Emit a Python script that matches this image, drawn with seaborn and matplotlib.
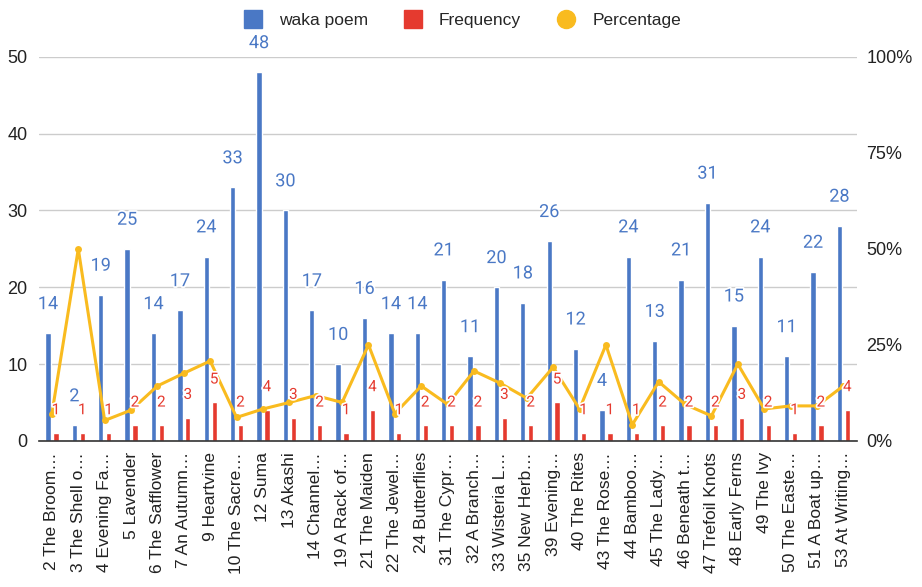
import seaborn as sns
import matplotlib.pyplot as plt
import matplotlib.patheffects as pe
from matplotlib.lines import Line2D
import pandas as pd

chapters = ["2 The Broom…", "3 The Shell o…", "4 Evening Fa…", "5 Lavender",
            "6 The Safflower", "7 An Autumn…", "9 Heartvine", "10 The Sacre…",
            "12 Suma", "13 Akashi", "14 Channel…", "19 A Rack of…",
            "21 The Maiden", "22 The Jewel…", "24 Butterflies", "31 The Cypr…",
            "32 A Branch…", "33 Wisteria L…", "35 New Herb…", "39 Evening…",
            "40 The Rites", "43 The Rose…", "44 Bamboo…", "45 The Lady…",
            "46 Beneath t…", "47 Trefoil Knots", "48 Early Ferns", "49 The Ivy",
            "50 The Easte…", "51 A Boat up…", "53 At Writing…"]
waka = [14, 2, 19, 25, 14, 17, 24, 33, 48, 30, 17, 10, 16, 14, 14, 21,
        11, 20, 18, 26, 12, 4, 24, 13, 21, 31, 15, 24, 11, 22, 28]
freq = [1, 1, 1, 2, 2, 3, 5, 2, 4, 3, 2, 1, 4, 1, 2, 2,
        2, 3, 2, 5, 1, 1, 1, 2, 2, 2, 3, 2, 1, 2, 4]
pct = [0.071, 0.50, 0.053, 0.08, 0.143, 0.176, 0.208, 0.061, 0.083, 0.10, 0.118,
       0.10, 0.25, 0.071, 0.143, 0.095, 0.182, 0.15, 0.111, 0.192, 0.083, 0.25,
       0.042, 0.154, 0.095, 0.065, 0.20, 0.083, 0.091, 0.091, 0.143]

BLUE = "#4a78c5"
RED = "#e53a2f"
YELLOW = "#f9bb1f"

sns.set_theme(style="white")
plt.rcParams['font.family'] = ['Liberation Sans', 'DejaVu Sans']

df = pd.DataFrame({
    "chapter": chapters * 2,
    "value": waka + freq,
    "series": ["waka poem"] * len(chapters) + ["Frequency"] * len(chapters),
})

fig = plt.figure(figsize=(9.22, 5.87), dpi=100)
ax = fig.add_axes([0.042, 0.249, 0.887, 0.654])

sns.barplot(data=df, x="chapter", y="value", hue="series", order=chapters,
            hue_order=["waka poem", "Frequency"], palette=[BLUE, RED],
            width=0.6, gap=0.33, legend=False, ax=ax, saturation=1)

ax.set_ylim(0, 50)
ax.set_xlim(-0.5, len(chapters) - 0.5)
ax.set_yticks(range(0, 51, 10))
ax.yaxis.grid(True, color="#cccccc", lw=1)
ax.set_axisbelow(True)
ax.set_xlabel("")
ax.set_ylabel("")
for s in ["top", "left", "right"]:
    ax.spines[s].set_visible(False)
ax.spines["bottom"].set_color("#333333")
ax.spines["bottom"].set_linewidth(1.2)
ax.tick_params(axis="y", length=0, pad=8, labelsize=13, colors="#222222")
ax.tick_params(axis="x", length=0, pad=8, labelsize=12.5, colors="#222222")
ax.set_xticks(range(len(chapters)))
ax.set_xticklabels(chapters, rotation=90, ha="center", va="top")

ax2 = ax.twinx()
pos = list(range(len(chapters)))
sns.lineplot(x=pos, y=pct, ax=ax2, color=YELLOW, lw=2.2, marker="o",
             markersize=5, markeredgewidth=0)
ax2.set_ylim(0, 1)
ax2.set_yticks([0, 0.25, 0.5, 0.75, 1.0])
ax2.set_yticklabels(["0%", "25%", "50%", "75%", "100%"])
ax2.tick_params(axis="y", length=0, pad=7, labelsize=13, colors="#222222")
for s in ["top", "left", "right", "bottom"]:
    ax2.spines[s].set_visible(False)
ax2.grid(False)

halo = [pe.withStroke(linewidth=2.5, foreground="white")]
for i, (w, f) in enumerate(zip(waka, freq)):
    ax2.annotate(str(w), xy=(i - 0.15, w), xycoords=ax.transData,
                 xytext=(0, 21), textcoords="offset points", ha="center",
                 va="center", color=BLUE, fontsize=13, family="Roboto",
                 path_effects=halo)
    ax2.annotate(str(f), xy=(i + 0.15, f), xycoords=ax.transData,
                 xytext=(0, 16.5), textcoords="offset points", ha="center",
                 va="center", color=RED, fontsize=11, family="Roboto",
                 path_effects=halo)

handles = [
    Line2D([], [], marker="s", ls="", color=BLUE, markersize=13),
    Line2D([], [], marker="s", ls="", color=RED, markersize=13),
    Line2D([], [], marker="o", ls="", color=YELLOW, markersize=13),
]
fig.legend(handles, ["waka poem", "Frequency", "Percentage"], loc="upper center",
           bbox_to_anchor=(0.497, 1.005), ncol=3, frameon=False, fontsize=12.5,
           handletextpad=0.5, columnspacing=1.6)

fig.savefig("out.png", dpi=100)
